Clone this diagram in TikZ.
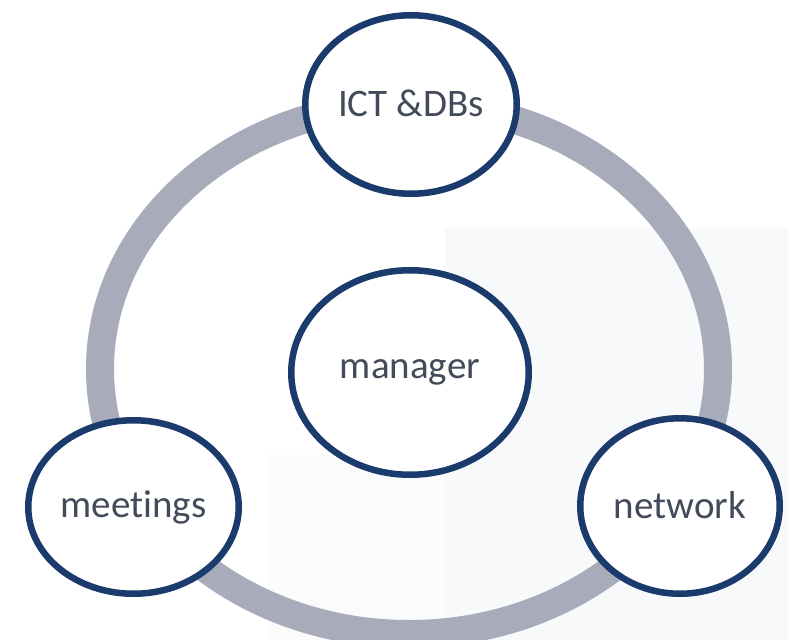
\documentclass[tikz,border=0pt]{standalone}
\usepackage{fontspec}
\setmainfont[Ligatures=NoCommon]{Carlito}
\usetikzlibrary{shapes.geometric}
\definecolor{ringgrey}{HTML}{A7ABBA}
\definecolor{navy}{HTML}{1B3B6C}
\definecolor{txtgrey}{HTML}{434B5B}
\definecolor{panelA}{HTML}{F8F9FA}
\definecolor{panelB}{HTML}{FBFBFC}
\tikzset{
  bubble/.style={ellipse, draw=navy, line width=6.5pt, fill=white,
    text=txtgrey, font=\fontsize{39}{45}\selectfont, inner sep=0pt},
  ring/.style={draw=ringgrey, line width=28pt}
}
\begin{document}
\begin{tikzpicture}[x=1pt,y=-1pt]
\useasboundingbox (0,0) rectangle (788,640);
\fill[white] (0,0) rectangle (788,640);
\fill[panelB] (268,455) rectangle (445,640);
\fill[panelA] (445,228) rectangle (788,640);
\draw[ring] (409,369) ellipse [x radius=309, y radius=265];
\node[bubble, minimum width=211.5pt, minimum height=178.5pt, text depth=0.3em] (ict) at (411,104.5) {ICT \&DBs};
\node[bubble, minimum width=237.5pt, minimum height=204.5pt] (manager) at (410,372.5) {manager};
\node[bubble, minimum width=210.5pt, minimum height=173.5pt] (meetings) at (133.5,507) {meetings};
\node[bubble, minimum width=199.5pt, minimum height=175.5pt, text depth=0.25em] (network) at (680,506) {network};
\end{tikzpicture}
\end{document}
